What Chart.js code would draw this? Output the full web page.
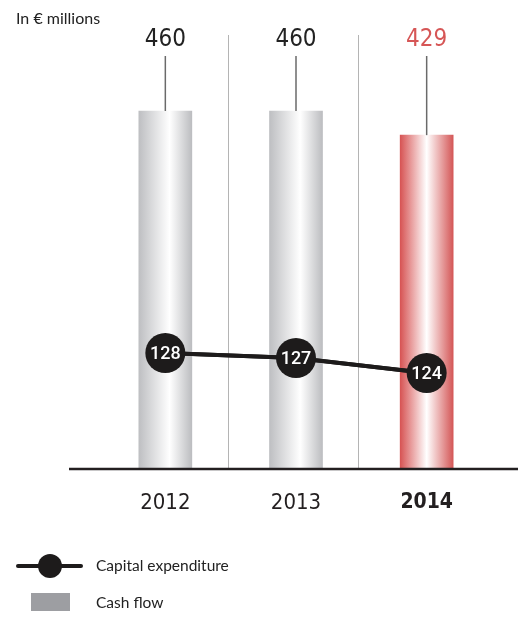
<!DOCTYPE html>
<html>
<head>
<meta charset="utf-8">
<script src="https://cdn.jsdelivr.net/npm/chart.js@4"></script>
<style>
  html, body { margin: 0; padding: 0; background: #fff; }
  body { width: 518px; height: 617px; position: relative; overflow: hidden; }
  #wrap { position: absolute; left: 0; top: 0; width: 518px; height: 617px; }
  .unit { position: absolute; left: 16px; top: 8px; font: 16px Lato, sans-serif; color: #222; }
  .legend { position: absolute; left: 0; top: 552px; font: 15.5px Lato, sans-serif; color: #222; }
  .row { position: absolute; left: 0; height: 28px; width: 300px; }
  .row span.lbl { position: absolute; left: 96px; top: 4px; white-space: nowrap; }
  .sym-line { position: absolute; left: 16px; top: 12px; width: 67px; height: 4px; border-radius: 2px; background: #1d1b1b; }
  .sym-dot { position: absolute; left: 38px; top: 2px; width: 24px; height: 24px; border-radius: 50%; background: #1d1b1b; }
  .sym-box { position: absolute; left: 31px; top: 4px; width: 39px; height: 18px; background: #9d9ea2; }
</style>
</head>
<body>
<div id="wrap"><canvas id="c" width="518" height="617"></canvas></div>
<div class="unit">In € millions</div>
<div class="legend">
  <div class="row" style="top:0"><div class="sym-line"></div><div class="sym-dot"></div><span class="lbl">Capital expenditure</span></div>
  <div class="row" style="top:37px"><div class="sym-box"></div><span class="lbl">Cash flow</span></div>
</div>
<script>
const years = ['2012', '2013', '2014'];
const cashFlow = [460, 460, 429];
const capex = [128, 127, 124];

const RED = '#d65656';
const condensed = "'DejaVu Sans Condensed', Roboto, sans-serif";

function barGradient(ctx) {
  const chart = ctx.chart;
  const area = chart.chartArea;
  if (!area) return '#c8c9cc';
  const x = chart.scales.x.getPixelForValue(ctx.dataIndex);
  const left = x - 26.5, right = x + 26.5;
  const g = chart.ctx.createLinearGradient(left, 0, right, 0);
  if (ctx.dataIndex === years.length - 1) {
    g.addColorStop(0, '#d75454');
    g.addColorStop(0.5, '#ffffff');
    g.addColorStop(1, '#d45757');
  } else {
    g.addColorStop(0, '#bebfc2');
    g.addColorStop(0.58, '#ffffff');
    g.addColorStop(1, '#bcbdc0');
  }
  return g;
}

// separators between years, value labels, circles, long baseline
const framePlugin = {
  id: 'frame',
  beforeDatasetsDraw(chart) {
    const { ctx, chartArea, scales } = chart;
    ctx.save();
    ctx.strokeStyle = '#b4b4b4';
    ctx.lineWidth = 1;
    for (let i = 1; i < years.length; i++) {
      const x = Math.round((scales.x.getPixelForValue(i - 1) + scales.x.getPixelForValue(i)) / 2) - 2.5;
      ctx.beginPath();
      ctx.moveTo(x, chartArea.top);
      ctx.lineTo(x, chartArea.bottom);
      ctx.stroke();
    }
    ctx.restore();
  },
  afterDatasetsDraw(chart) {
    const { ctx, chartArea } = chart;
    ctx.save();
    const bars = chart.getDatasetMeta(1).data;
    bars.forEach((bar, i) => {
      ctx.strokeStyle = '#6a6a6a';
      ctx.lineWidth = 1.5;
      ctx.beginPath();
      ctx.moveTo(bar.x, chartArea.top + 21);
      ctx.lineTo(bar.x, bar.y);
      ctx.stroke();
      ctx.fillStyle = i === years.length - 1 ? RED : '#222';
      ctx.font = '24px ' + condensed;
      ctx.textAlign = 'center';
      ctx.textBaseline = 'middle';
      ctx.fillText(String(cashFlow[i]), bar.x, chartArea.top + 5);
    });
    const pts = chart.getDatasetMeta(0).data;
    ctx.strokeStyle = '#1d1b1b';
    ctx.lineWidth = 4;
    ctx.beginPath();
    pts.forEach((p, i) => (i ? ctx.lineTo(p.x, p.y) : ctx.moveTo(p.x, p.y)));
    ctx.stroke();
    pts.forEach((p, i) => {
      ctx.fillStyle = '#1d1b1b';
      ctx.beginPath();
      ctx.arc(p.x, p.y, 20, 0, Math.PI * 2);
      ctx.fill();
      ctx.fillStyle = '#fff';
      ctx.font = '500 18px Roboto, sans-serif';
      ctx.textAlign = 'center';
      ctx.textBaseline = 'middle';
      ctx.fillText(String(capex[i]), p.x, p.y + 1);
    });
    ctx.strokeStyle = '#231f20';
    ctx.lineWidth = 2.5;
    ctx.beginPath();
    ctx.moveTo(69, chartArea.bottom);
    ctx.lineTo(chart.width, chartArea.bottom);
    ctx.stroke();
    ctx.restore();
  }
};

new Chart(document.getElementById('c'), {
  data: {
    labels: years,
    datasets: [
      {
        type: 'line',
        label: 'Capital expenditure',
        data: capex,
        yAxisID: 'y1',
        borderColor: '#1d1b1b',
        borderWidth: 4,
        pointRadius: 0,
        order: 0,
      },
      {
        type: 'bar',
        label: 'Cash flow',
        data: cashFlow,
        yAxisID: 'y',
        backgroundColor: barGradient,
        barThickness: 53,
        borderWidth: 0,
        order: 1,
      },
    ],
  },
  options: {
    responsive: false,
    animation: false,
    events: [],
    layout: { padding: { left: 100, right: 26, top: 35, bottom: 108 } },
    plugins: { legend: { display: false }, tooltip: { enabled: false } },
    scales: {
      x: {
        grid: { display: false, drawTicks: false },
        border: { display: false },
        ticks: {
          padding: 21,
          color: '#231f20',
          font: (c) => c.index === years.length - 1
            ? { family: condensed, size: 21, weight: 'bold' }
            : { family: condensed, size: 22, weight: 'normal' },
        },
        afterFit: (s) => { s.height = 40; },
      },
      y: { display: false, min: 0, max: 557.7 },
      y1: { display: false, min: 104.8, max: 191.6 },
    },
  },
  plugins: [framePlugin],
});
</script>
</body>
</html>
